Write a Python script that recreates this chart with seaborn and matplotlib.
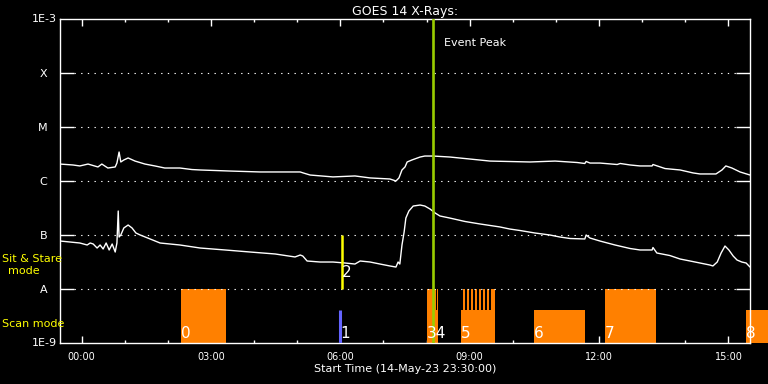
import matplotlib
matplotlib.use("Agg")
import matplotlib.pyplot as plt
from matplotlib.ticker import NullLocator
import seaborn as sns

# hours since start (14-May-23 23:30:00)
t_long = [0.00, 0.30, 0.46, 0.65, 0.88, 0.97, 1.11, 1.28, 1.32, 1.37, 1.41, 1.48, 1.58, 1.74, 1.97,
          2.20, 2.43, 2.78, 3.06, 3.25, 3.94, 4.64, 5.34, 5.57, 5.64, 5.80, 6.33, 6.84, 7.19, 7.65,
          7.79, 7.86, 7.93, 8.00, 8.05, 8.16, 8.35, 8.46, 8.65, 9.04, 9.51, 9.97, 10.90, 11.48, 11.99,
          12.17, 12.20, 12.29, 12.52, 12.92, 12.99, 13.22, 13.45, 13.73, 13.75, 14.03, 14.38, 14.68,
          14.84, 15.21, 15.35, 15.44, 15.58, 15.77, 16.00]
flux_long = [2.06e-6, 1.98e-6, 1.90e-6, 2.06e-6, 1.82e-6, 2.06e-6, 1.74e-6, 1.82e-6, 2.15e-6, 3.44e-6,
             2.25e-6, 2.45e-6, 2.67e-6, 2.34e-6, 2.06e-6, 1.90e-6, 1.74e-6, 1.74e-6, 1.63e-6, 1.60e-6,
             1.53e-6, 1.47e-6, 1.47e-6, 1.47e-6, 1.41e-6, 1.29e-6, 1.19e-6, 1.24e-6, 1.14e-6, 1.09e-6,
             1.00e-6, 1.14e-6, 1.60e-6, 1.82e-6, 2.25e-6, 2.45e-6, 2.78e-6, 2.90e-6, 2.90e-6, 2.78e-6,
             2.55e-6, 2.34e-6, 2.25e-6, 2.34e-6, 2.20e-6, 2.11e-6, 2.30e-6, 2.15e-6, 2.15e-6, 2.02e-6,
             2.11e-6, 1.98e-6, 1.90e-6, 1.90e-6, 2.02e-6, 1.70e-6, 1.60e-6, 1.41e-6, 1.35e-6, 1.35e-6,
             1.60e-6, 1.90e-6, 1.74e-6, 1.47e-6, 1.29e-6]

t_short = [0.00, 0.23, 0.46, 0.63, 0.70, 0.77, 0.86, 0.93, 1.00, 1.07, 1.14, 1.21, 1.28, 1.32, 1.35,
           1.37, 1.41, 1.48, 1.58, 1.67, 1.76, 1.86, 2.09, 2.32, 2.78, 3.25, 3.83, 4.41, 4.99, 5.45,
           5.57, 5.63, 5.73, 6.03, 6.33, 6.61, 6.84, 6.96, 7.19, 7.42, 7.65, 7.79, 7.84, 7.88, 7.93,
           7.98, 8.02, 8.09, 8.19, 8.35, 8.46, 8.58, 8.70, 8.81, 9.04, 9.39, 9.74, 10.20, 10.43, 10.67,
           11.01, 11.36, 11.59, 11.83, 12.17, 12.20, 12.29, 12.52, 12.87, 13.22, 13.45, 13.73, 13.75,
           13.84, 14.14, 14.38, 14.61, 14.84, 15.07, 15.14, 15.24, 15.33, 15.42, 15.51, 15.61, 15.70,
           15.81, 15.91, 16.00]
flux_short = [7.74e-8, 7.42e-8, 7.11e-8, 6.53e-8, 7.11e-8, 6.81e-8, 5.74e-8, 6.53e-8, 5.51e-8, 7.11e-8,
              5.28e-8, 6.81e-8, 4.84e-8, 7.11e-8, 2.78e-7, 9.18e-8, 1.00e-7, 1.35e-7, 1.53e-7, 1.35e-7,
              1.09e-7, 1.00e-7, 8.44e-8, 7.11e-8, 6.53e-8, 5.74e-8, 5.28e-8, 4.84e-8, 4.45e-8, 3.92e-8,
              4.26e-8, 4.08e-8, 3.30e-8, 3.16e-8, 3.16e-8, 3.03e-8, 2.90e-8, 3.30e-8, 3.16e-8, 2.90e-8,
              2.67e-8, 2.55e-8, 3.16e-8, 2.90e-8, 6.53e-8, 1.14e-7, 2.06e-7, 2.78e-7, 3.44e-7, 3.59e-7,
              3.44e-7, 3.03e-7, 2.55e-7, 2.25e-7, 2.06e-7, 1.78e-7, 1.60e-7, 1.41e-7, 1.29e-7, 1.21e-7,
              1.09e-7, 1.00e-7, 9.18e-8, 8.61e-8, 8.44e-8, 1.00e-7, 8.79e-8, 7.74e-8, 6.53e-8, 5.62e-8,
              5.28e-8, 5.28e-8, 5.87e-8, 4.64e-8, 4.17e-8, 3.59e-8, 3.30e-8, 3.03e-8, 2.78e-8, 2.67e-8,
              3.16e-8, 4.64e-8, 6.25e-8, 5.28e-8, 4.08e-8, 3.44e-8, 3.16e-8, 3.03e-8, 2.55e-8]

# observing events (hours since start)
sas_start = [2.81, 8.51, 12.64]          # sit & stare blocks
sas_end = [3.85, 8.72, 13.82]
scan_start = [8.72, 9.30, 10.99, 15.91]  # scan blocks
scan_end = [8.76, 10.09, 12.17, 16.42]
raster_start = [8.74, 9.35, 9.44, 9.53, 9.62, 9.72, 9.81, 9.90, 9.99]
raster_end = [8.76, 9.40, 9.49, 9.58, 9.67, 9.77, 9.86, 9.95, 10.09]
event1_t = 6.50
event2_t = 6.54
peak_t = 8.66
event_labels = ["0", "1", "2", "34", "5", "6", "7", "8"]
event_label_t = [2.81, 6.50, 6.54, 8.51, 9.30, 10.99, 12.64, 15.91]

class_levels = [1e-8, 1e-7, 1e-6, 1e-5, 1e-4]
class_names = ["A", "B", "C", "M", "X"]
hour_ticks = [0.5, 3.5, 6.5, 9.5, 12.5, 15.5]
hour_labels = ["00:00", "03:00", "06:00", "09:00", "12:00", "15:00"]
minor_ticks = [0.5 + i for i in range(16)]

ORANGE = "#ff8000"
FLOOR = 1e-9
SAS_TOP = 1e-8
SCAN_TOP = 4.1e-9

sns.set_style("dark")
plt.rcParams.update({
    "font.family": ["DejaVu Sans"],
    "figure.facecolor": "black",
    "axes.facecolor": "black",
    "axes.edgecolor": "white",
    "axes.linewidth": 1.0,
})

fig = plt.figure(figsize=(7.68, 3.84), dpi=100)
ax = fig.add_axes([60 / 768, 41 / 384, 690 / 768, 324 / 384])


def blocks(starts, ends, top, clip=True):
    ax.bar(x=starts, height=top - FLOOR, width=[e - s for s, e in zip(starts, ends)],
           bottom=FLOOR, align="edge", color=ORANGE, lw=0, zorder=1, clip_on=clip)


blocks(sas_start, sas_end, SAS_TOP)
blocks(scan_start, scan_end, SCAN_TOP, clip=False)
blocks(raster_start, raster_end, SAS_TOP)

sns.lineplot(x=t_long, y=flux_long, ax=ax, color="white", lw=1, estimator=None, sort=False, zorder=3)
sns.lineplot(x=t_short, y=flux_short, ax=ax, color="white", lw=1, estimator=None, sort=False, zorder=3)

ax.set_yscale("log")
ax.set_xlim(0, 16)
ax.set_ylim(1e-9, 1e-3)
ax.grid(False)

for lvl in class_levels:
    ax.axhline(lvl, xmin=14 / 690, xmax=676 / 690, color="white", lw=0.8,
               ls=(0, (1.2, 4.8)), zorder=2)

ax.vlines(event1_t, FLOOR, SCAN_TOP, color="#6464ff", lw=2.2, zorder=4)
ax.vlines(event2_t, 1e-8, 1e-7, color="yellow", lw=1.8, zorder=4)
ax.axvline(peak_t, color="#99cc00", lw=1.9, zorder=5)
ax.text(8.90, 3.59e-4, "Event Peak", color="white", fontsize=8, va="center")

for lab, t in zip(event_labels, event_label_t):
    y = 1.65e-8 if lab == "2" else 1.22e-9
    ax.text(t, y, lab, color="white", fontsize=11, va="baseline", ha="left", zorder=6)

ax.set_yticks(class_levels)
ax.set_yticklabels(class_names)
ax.yaxis.set_minor_locator(NullLocator())
ax.tick_params(axis="y", which="major", direction="in", length=10, width=1,
               left=True, right=True, colors="white", labelsize=8, pad=9)
ax.set_xticks(hour_ticks)
ax.set_xticklabels(hour_labels)
ax.set_xticks(minor_ticks, minor=True)
ax.tick_params(axis="x", which="major", direction="in", length=4.7, width=1,
               top=True, bottom=True, colors="white", labelsize=7, pad=6.3)
ax.tick_params(axis="x", which="minor", direction="in", length=2.5, width=1,
               top=True, bottom=True, color="white")
ax.text(-0.004, 1.0, "1E-3", transform=ax.transAxes, ha="right", va="center", color="white", fontsize=8)
ax.text(-0.004, 0.0, "1E-9", transform=ax.transAxes, ha="right", va="center", color="white", fontsize=8)

ax.set_title("GOES 14 X-Rays:", color="white", fontsize=9, pad=3)
ax.set_xlabel("Start Time (14-May-23 23:30:00)", color="white", fontsize=8, labelpad=1.5)

fig.text(2 / 768, 1 - 259 / 384, "Sit & Stare", color="yellow", fontsize=8, va="center")
fig.text(24.3 / 768, 1 - 271 / 384, "mode", color="yellow", fontsize=8, va="center", ha="center")
fig.text(2 / 768, 1 - 324 / 384, "Scan mode", color="yellow", fontsize=8, va="center")

fig.savefig("out.png", dpi=100, facecolor="black")
